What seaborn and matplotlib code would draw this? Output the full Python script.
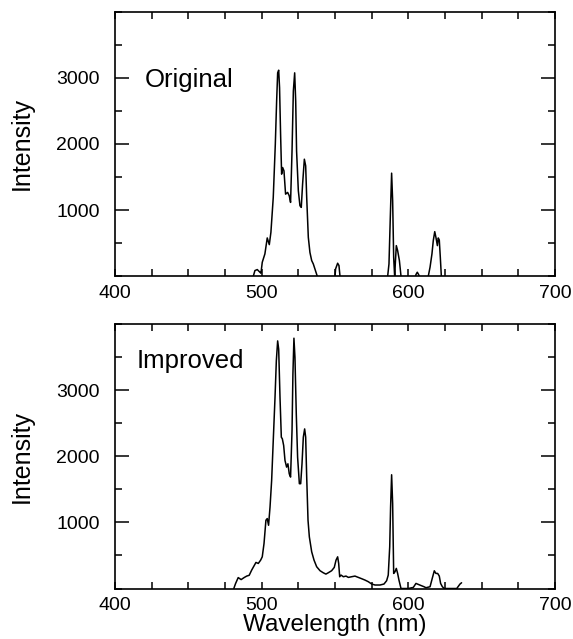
import numpy as np
import pandas as pd
import seaborn as sns
import matplotlib.pyplot as plt
from matplotlib.ticker import MultipleLocator, FixedLocator

# Original spectrum (below-zero parts are clipped)
orig_wl = [482, 493, 494.3, 495.4, 497.0, 498.8, 499.5, 500.4, 502.2, 503.8,
           505.2, 506.3, 507.9, 509.3, 510.2, 510.9, 511.6, 512.2, 512.9, 513.6,
           514.3, 515.2, 516.3, 517.7, 518.8, 519.7, 520.7, 521.6, 522.5, 523.2,
           523.8, 525.0, 526.1, 527.0, 527.9, 529.1, 530.0, 530.7, 531.8, 532.9,
           534.1, 535.2, 536.3, 537.9, 539, 544, 549, 550.0, 550.4, 551.8,
           552.7, 553.4, 555, 570, 585, 585.9, 586.8, 587.7, 588.6, 589.3,
           590.0, 590.7, 591.1, 591.8, 592.7, 593.9, 595.0, 596, 604.5, 605.2,
           606.1, 607.0, 608, 612.5, 613.6, 614.8, 616.1, 617.0, 618.0, 618.8,
           619.8, 620.4, 621.1, 621.8, 622.5, 624, 636]
orig_int = [-300, -60, 0, 85, 100, 60, 45, 210, 337, 578,
            477, 663, 1190, 1993, 2646, 3073, 3113, 2847, 2144, 1542,
            1642, 1592, 1240, 1266, 1215, 1115, 1893, 2797, 3073, 2646,
            1893, 1291, 1065, 1040, 1391, 1768, 1667, 1190, 588, 360,
            236, 185, 110, 0, -60, -300, -60, 0, 110, 196,
            161, 0, -60, -300, -60, 0, 185, 888, 1557, 1140,
            286, -20, 185, 462, 387, 236, 0, -60, -30, 25,
            60, 25, -30, -60, 0, 136, 337, 537, 673, 588,
            462, 578, 547, 286, 0, -60, -300]

# Improved spectrum
imp_wl = [481.0, 482.2, 484.0, 486.0, 488.0, 489.8, 491.5, 493.2, 496.1, 497.7,
          499.3, 500.4, 501.6, 502.9, 503.8, 504.7, 505.7, 506.8, 507.9, 509.1,
          510.0, 510.9, 511.6, 512.5, 513.4, 514.1, 515.0, 515.9, 517.0, 517.9,
          518.8, 519.7, 520.7, 521.3, 522.0, 522.7, 523.6, 524.5, 525.7, 526.6,
          527.5, 528.4, 529.3, 530.0, 530.7, 531.6, 532.5, 534.1, 535.7, 537.5,
          539.8, 542.0, 543.8, 545.4, 547.7, 549.5, 550.7, 551.8, 552.5, 553.2,
          554.1, 555.7, 557.5, 559.1, 561.3, 563.6, 565.9, 568.2, 570.4, 572.7,
          575.0, 577.3, 580.7, 583.4, 585.2, 586.3, 587.3, 587.9, 588.6, 589.3,
          590.0, 590.9, 591.8, 592.7, 593.6, 595.0, 600.0, 603.4, 605.2, 607.9,
          610.7, 612.0, 614.8, 616.3, 617.7, 618.8, 620.0, 621.1, 622.0, 623.2,
          624.5, 633.0, 635.2, 636.3]
imp_int = [0, 75, 165, 135, 165, 188, 200, 279, 394, 379,
           429, 479, 680, 1032, 1057, 956, 1232, 1634, 2236, 2889,
           3441, 3742, 3617, 2889, 2287, 2262, 2161, 1935, 1835, 1885,
           1734, 1684, 2387, 3240, 3783, 3491, 2638, 1985, 1584, 1584,
           1885, 2287, 2412, 2287, 1684, 1032, 781, 555, 429, 329,
           269, 238, 218, 238, 269, 319, 429, 479, 379, 178,
           203, 178, 188, 168, 178, 188, 168, 148, 128, 103,
           68, 53, 53, 68, 118, 203, 630, 1232, 1719, 1283,
           228, 253, 304, 228, 128, 0, 0, 17, 77, 52,
           27, 12, 27, 153, 268, 228, 228, 188, 77, 27,
           0, 0, 67, 87]

panel_labels = ["Original", "Improved"]
x_ticks = [400, 500, 600, 700]
y_ticks = [1000, 2000, 3000]

sns.set_style("ticks")
plt.rcParams['font.family'] = ['Liberation Sans', 'DejaVu Sans']
plt.rcParams['text.color'] = 'black'
plt.rcParams['axes.labelcolor'] = 'black'
plt.rcParams['xtick.color'] = 'black'
plt.rcParams['ytick.color'] = 'black'

df_orig = pd.DataFrame({"wl": orig_wl, "I": orig_int})
df_imp = pd.DataFrame({"wl": imp_wl, "I": imp_int})

fig, axes = plt.subplots(2, 1, figsize=(5.73, 6.39), dpi=100)
fig.subplots_adjust(left=0.2007, right=0.9686, top=0.982, bottom=0.079, hspace=0.18)

for ax, df, name, ty in zip(axes, [df_orig, df_imp], panel_labels, [2857, 3340]):
    sns.lineplot(data=df, x="wl", y="I", ax=ax, color="black", linewidth=1.1,
                 sort=False, estimator=None)
    ax.set_xlim(400, 700)
    ax.set_ylim(0, 4000)
    ax.xaxis.set_major_locator(FixedLocator(x_ticks))
    ax.xaxis.set_minor_locator(MultipleLocator(25))
    ax.yaxis.set_major_locator(FixedLocator(y_ticks))
    ax.yaxis.set_minor_locator(MultipleLocator(500))
    ax.tick_params(which="both", direction="in", top=True, right=True,
                   width=1.1, color="black", labelcolor="black", labelsize=14)
    ax.tick_params(axis="x", which="both", length=5, pad=6)
    ax.tick_params(axis="y", which="major", length=10, pad=11)
    ax.tick_params(axis="y", which="minor", length=5)
    for sp in ax.spines.values():
        sp.set_linewidth(1.2)
        sp.set_color("black")
    ax.set_ylabel("Intensity", fontsize=18, color="black")
    ax.yaxis.set_label_coords(-0.185, 0.5)
    ax.set_xlabel("")
    ax.text(420.5 if name == "Original" else 415, ty, name, fontsize=18.5,
            va="baseline", ha="left", color="black")

axes[1].set_xlabel("Wavelength (nm)", fontsize=17.5, color="black")
axes[1].xaxis.set_label_coords(0.5, -0.097)

fig.savefig("out.png", dpi=100)
